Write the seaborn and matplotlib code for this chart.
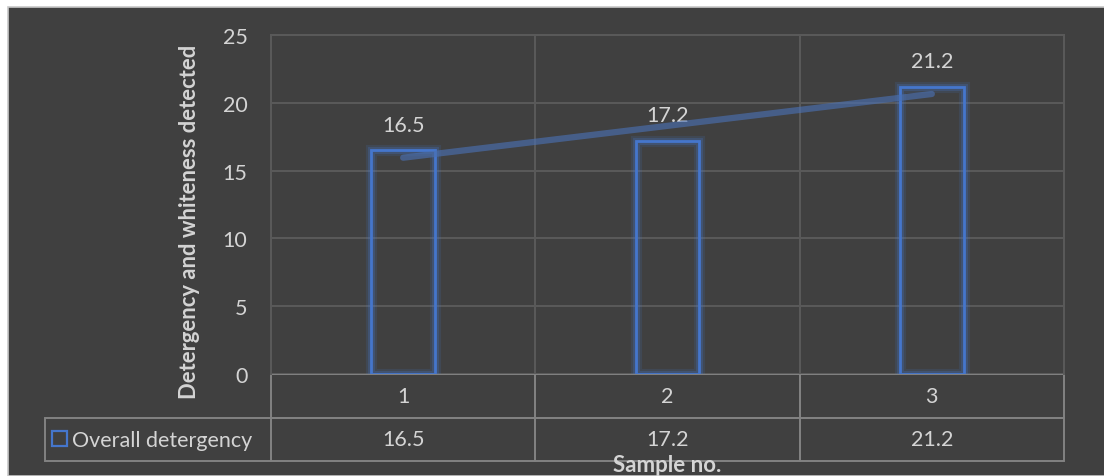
import numpy as np
import pandas as pd
import matplotlib
matplotlib.use("Agg")
import matplotlib.pyplot as plt
import matplotlib.patheffects as pe
from matplotlib.patches import Rectangle
import seaborn as sns

# ---- data ----
samples = ["1", "2", "3"]
detergency = [16.5, 17.2, 21.2]
series_name = "Overall detergency"
y_ticks = [0, 5, 10, 15, 20, 25]
x_label = "Sample no."
y_label = "Detergency and whiteness detected"

df = pd.DataFrame({"sample": samples, "value": detergency})

sns.set_theme(style="dark")
plt.rcParams["font.family"] = ["Lato", "DejaVu Sans"]

BG = "#404040"
GRID = "#5a5a5a"
TABLE = "#828282"
TXT = "#d4d4d4"
BLUE = "#4576CC"
FS = 15.5

W, H = 1104, 477
fig = plt.figure(figsize=(W / 100, H / 100), dpi=100, facecolor="white")
fig.patches.append(Rectangle((7.5 / W, 0), 1, 1 - 7.5 / H, transform=fig.transFigure,
                             facecolor=BG, edgecolor="#c8c8c8", linewidth=1.2, zorder=-10))

L, R, T, B = 271, 1064, 36, 375
ax = fig.add_axes([L / W, 1 - B / H, (R - L) / W, (B - T) / H])
ax.set_facecolor("none")

sns.barplot(data=df, x="sample", y="value", fill=False, color=BLUE, width=0.242,
            linewidth=2.0, ax=ax, zorder=3, err_kws={"linewidth": 0})
for p in ax.patches:
    p.set_edgecolor(BLUE)
    p.set_path_effects([pe.Stroke(linewidth=8, foreground=BLUE, alpha=0.15),
                        pe.Stroke(linewidth=5, foreground=BLUE, alpha=0.25),
                        pe.Normal()])

# linear trendline
sns.regplot(x=np.arange(len(samples)), y=np.array(detergency), scatter=False, ci=None,
            truncate=True, ax=ax,
            line_kws={"color": "#4a6fb0", "alpha": 0.65, "linewidth": 4.5,
                      "solid_capstyle": "round", "zorder": 4})

for c in ax.containers:
    ax.bar_label(c, labels=[f"{v:g}" for v in detergency], padding=11,
                 color=TXT, fontsize=FS)

ax.set_xlim(-0.5, len(samples) - 0.5)
ax.set_ylim(0, 25)
ax.set_yticks(y_ticks)
ax.set_yticklabels([str(t) for t in y_ticks])
ax.set_xticks([])
ax.set_xticks(np.arange(len(samples) - 1) + 0.5, minor=True)
ax.tick_params(axis="x", which="both", length=0, labelbottom=False)
ax.tick_params(axis="y", length=0, pad=17, labelcolor=TXT, labelsize=FS)
ax.grid(axis="y", color=GRID, linewidth=1.4, zorder=0)
ax.grid(axis="x", which="minor", color=GRID, linewidth=1.4, zorder=0)
for s in ["left", "right", "top"]:
    ax.spines[s].set_visible(True)
    ax.spines[s].set_color(GRID)
    ax.spines[s].set_linewidth(1.4)
ax.spines["bottom"].set_visible(False)

# data table
tb_left = (45 - L) / (R - L)
tb_h = (462 - B) / (B - T)
lab_w = (L - 45)
col_w = (R - L) / len(samples)
widths = np.array([lab_w] + [col_w] * len(samples))
widths = list(widths / widths.sum())
tbl = ax.table(cellText=[[""] + samples, [""] + [f"{v:g}" for v in detergency]],
               cellLoc="center", colWidths=widths,
               bbox=[tb_left, -tb_h, 1 - tb_left, tb_h])
tbl.auto_set_font_size(False)
tbl.set_fontsize(FS)
for (r, c), cell in tbl.get_celld().items():
    cell.set_facecolor("none")
    cell.set_edgecolor(TABLE)
    cell.set_linewidth(1.4)
    cell.get_text().set_color(TXT)
    if r == 0 and c == 0:
        cell.visible_edges = ""

# legend key inside the row-label cell
handle = Rectangle((0, 0), 1, 1, facecolor="none", edgecolor=BLUE, linewidth=1.6)
leg = ax.legend([handle], [series_name], loc="center left",
                bbox_to_anchor=((52 - L) / (R - L), -(441 - B) / (B - T)),
                frameon=False, fontsize=FS, handlelength=0.7, handleheight=0.7,
                handletextpad=0.25, borderpad=0, borderaxespad=0, labelcolor=TXT)

ax.set_xlabel(x_label, fontsize=16, fontweight="bold", color=TXT, va="top")
ax.xaxis.set_label_coords(0.5, -(455 - B) / (B - T))
ax.set_ylabel(y_label, fontsize=15.8, fontweight="bold", color=TXT)
ax.yaxis.set_label_coords((200 - L) / (R - L), (B - 222) / (B - T))

fig.savefig("out.png", dpi=100, facecolor="white")
